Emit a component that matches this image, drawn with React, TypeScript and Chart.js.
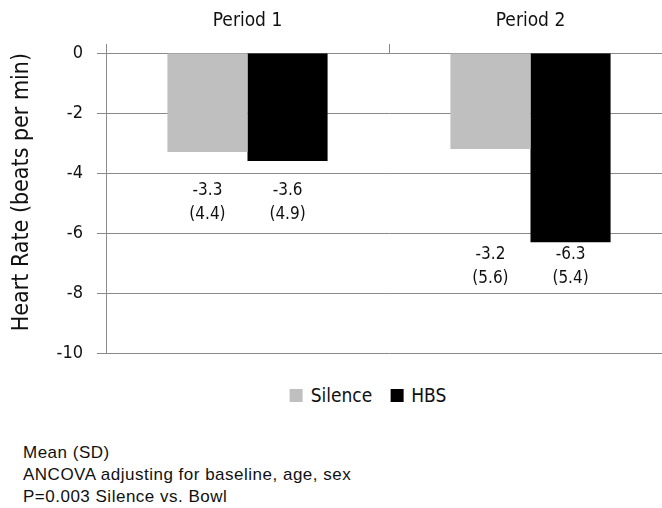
import React, { useEffect, useRef } from "react";
import { Chart, registerables } from "chart.js";

Chart.register(...registerables);

// Change in heart rate by period, mean and SD per condition
const periods = ["Period 1", "Period 2"];
const seriesNames = ["Silence", "HBS"];
const silenceMeans = [-3.3, -3.2];
const silenceSDs = [4.4, 5.6];
const hbsMeans = [-3.6, -6.3];
const hbsSDs = [4.9, 5.4];
const yTickValues = [0, -2, -4, -6, -8, -10];
const yTitle = "Heart Rate (beats per min)";
const footnotes = [
  "Mean (SD)",
  "ANCOVA adjusting for baseline, age, sex",
  "P=0.003 Silence vs. Bowl",
];

const seriesColors = ["#bfbfbf", "#000000"];
const seriesSDs = [silenceSDs, hbsSDs];
const FONT = "'DejaVu Sans Condensed', 'DejaVu Sans', sans-serif";
const AXIS_GRAY = "#8a8a8a";
// distance (px) from the lower bar end of each period to the first label line
const LABEL_GAP = [30, 12];
const LABEL_LINE = 24;

// "mean" over "(sd)" text under each pair of bars
const meanSdLabels = {
  id: "meanSdLabels",
  afterDatasetsDraw(chart: any) {
    const { ctx } = chart;
    const yScale = chart.scales.y;
    ctx.save();
    ctx.font = `17px ${FONT}`;
    ctx.fillStyle = "#111";
    ctx.textAlign = "center";
    ctx.textBaseline = "middle";
    periods.forEach((_, i) => {
      const lowest = Math.min(...chart.data.datasets.map((d: any) => d.data[i]));
      const y0 = yScale.getPixelForValue(lowest) + LABEL_GAP[i];
      chart.data.datasets.forEach((ds: any, di: number) => {
        const bar = chart.getDatasetMeta(di).data[i];
        ctx.fillText(ds.data[i].toFixed(1), bar.x, y0);
        ctx.fillText(`(${seriesSDs[di][i].toFixed(1)})`, bar.x, y0 + LABEL_LINE);
      });
    });
    ctx.restore();
  },
};

// rotated y-axis title, set a little above the plot's vertical middle
const yAxisTitle = {
  id: "yAxisTitle",
  afterDraw(chart: any) {
    const { ctx, chartArea } = chart;
    ctx.save();
    ctx.font = `23px ${FONT}`;
    ctx.fillStyle = "#111";
    ctx.textAlign = "center";
    ctx.textBaseline = "middle";
    ctx.translate(22, (chartArea.top + chartArea.bottom) / 2 - 11);
    ctx.rotate(-Math.PI / 2);
    ctx.fillText(yTitle, 0, 0);
    ctx.restore();
  },
};

export default function App() {
  const canvasRef = useRef<HTMLCanvasElement | null>(null);

  useEffect(() => {
    const canvas = canvasRef.current;
    if (!canvas) return;
    const chart = new Chart(canvas, {
      type: "bar",
      data: {
        labels: periods,
        datasets: [
          {
            label: seriesNames[0],
            data: silenceMeans,
            backgroundColor: seriesColors[0],
            borderWidth: 0,
            categoryPercentage: 0.566,
            barPercentage: 1,
          },
          {
            label: seriesNames[1],
            data: hbsMeans,
            backgroundColor: seriesColors[1],
            borderWidth: 0,
            categoryPercentage: 0.566,
            barPercentage: 1,
          },
        ],
      },
      options: {
        responsive: false,
        animation: false,
        layout: { padding: 0 },
        plugins: {
          legend: { display: false },
          tooltip: { enabled: false },
        },
        scales: {
          x: {
            position: "top",
            offset: true,
            grid: {
              offset: true,
              drawOnChartArea: false,
              color: AXIS_GRAY,
              tickLength: 9,
            },
            border: { color: AXIS_GRAY },
            ticks: { font: { family: FONT, size: 19 }, color: "#111", padding: 12 },
            afterFit: (s: any) => {
              s.height = 53;
            },
          },
          y: {
            min: -10,
            max: 0,
            afterBuildTicks: (s: any) => {
              s.ticks = yTickValues.map((v) => ({ value: v }));
            },
            grid: { color: AXIS_GRAY, tickLength: 9 },
            border: { color: AXIS_GRAY },
            ticks: { font: { family: FONT, size: 18 }, color: "#111", padding: 14 },
            afterFit: (s: any) => {
              s.width = 106;
            },
          },
        },
      },
      plugins: [meanSdLabels, yAxisTitle],
    });
    return () => chart.destroy();
  }, []);

  return (
    <div
      style={{
        position: "absolute",
        left: 0,
        top: 0,
        width: 662,
        height: 508,
        overflow: "hidden",
        background: "#fff",
      }}
    >
      <canvas ref={canvasRef} width={672} height={378} style={{ display: "block" }} />
      <div
        style={{
          position: "absolute",
          left: 368,
          top: 384,
          transform: "translateX(-50%)",
          display: "flex",
          alignItems: "center",
          gap: 18,
          fontFamily: FONT,
          fontSize: 19,
          color: "#111",
          whiteSpace: "nowrap",
        }}
      >
        {seriesNames.map((name, i) => (
          <span key={name} style={{ display: "flex", alignItems: "center", gap: 8 }}>
            <span
              style={{ width: 13, height: 13, background: seriesColors[i], display: "inline-block" }}
            />
            {name}
          </span>
        ))}
      </div>
      <div
        style={{
          position: "absolute",
          left: 23,
          top: 442,
          fontFamily: "'Liberation Sans', Arial, sans-serif",
          fontSize: 17,
          letterSpacing: "0.5px",
          lineHeight: "22px",
          color: "#111",
        }}
      >
        {footnotes.map((t) => (
          <div key={t}>{t}</div>
        ))}
      </div>
    </div>
  );
}
